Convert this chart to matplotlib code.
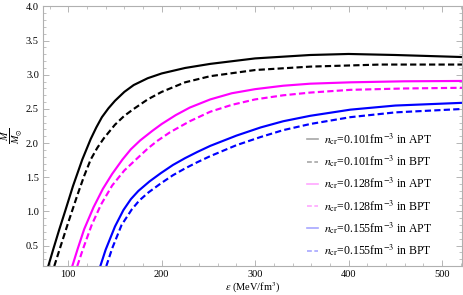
import numpy as np
import matplotlib
matplotlib.use("Agg")
import matplotlib.pyplot as plt
from matplotlib.ticker import MultipleLocator

plt.rcParams['font.family'] = ['Liberation Serif', 'DejaVu Serif']
plt.rcParams['mathtext.fontset'] = 'stix'

# curves (energy density in MeV/fm^3, mass in solar masses)
eps_black_apt = [78.6, 84, 90, 97, 105, 115, 124, 130, 136, 143, 150, 160, 170, 185, 200, 225, 252, 300, 359, 400, 450, 522]
m_black_apt = [0.2, 0.45, 0.72, 1.02, 1.37, 1.76, 2.06, 2.23, 2.38, 2.51, 2.62, 2.75, 2.85, 2.95, 3.02, 3.1, 3.16, 3.24, 3.29, 3.305, 3.29, 3.26]

eps_black_bpt = [85, 92, 100, 110, 117, 124, 131, 138, 150, 160, 170, 185, 200, 225, 252, 300, 359, 434, 522]
m_black_bpt = [0.2, 0.5, 0.84, 1.25, 1.52, 1.76, 1.93, 2.07, 2.27, 2.4, 2.5, 2.64, 2.75, 2.89, 2.98, 3.07, 3.12, 3.15, 3.15]

eps_mag_apt = [104.3, 110, 117, 127, 137, 147, 158, 167, 177, 190, 200, 215, 230, 252, 275, 300, 330, 359, 402, 460, 522]
m_mag_apt = [0.2, 0.45, 0.74, 1.06, 1.33, 1.55, 1.76, 1.91, 2.04, 2.18, 2.28, 2.41, 2.52, 2.64, 2.73, 2.79, 2.84, 2.87, 2.89, 2.905, 2.91]

eps_mag_bpt = [109.6, 116, 125, 135, 147, 160, 174, 185, 195, 209, 230, 252, 275, 300, 330, 359, 402, 460, 522]
m_mag_bpt = [0.2, 0.46, 0.8, 1.1, 1.38, 1.6, 1.78, 1.92, 2.03, 2.16, 2.32, 2.46, 2.56, 2.64, 2.7, 2.74, 2.78, 2.8, 2.81]

eps_blue_apt = [134.3, 140, 150, 159, 167, 175, 187, 199, 212, 225, 238, 252, 280, 306, 330, 359, 402, 450, 522]
m_blue_apt = [0.2, 0.44, 0.78, 1.02, 1.18, 1.3, 1.44, 1.56, 1.68, 1.78, 1.87, 1.96, 2.11, 2.23, 2.32, 2.4, 2.49, 2.55, 2.59]

eps_blue_bpt = [140.7, 147, 157, 168, 176, 186, 199, 212, 225, 238, 252, 280, 306, 330, 359, 402, 450, 522]
m_blue_bpt = [0.2, 0.46, 0.8, 1.03, 1.16, 1.28, 1.41, 1.53, 1.63, 1.72, 1.81, 1.97, 2.09, 2.19, 2.28, 2.38, 2.45, 2.5]

labels = [r'$n_{\rm cr}$=0.101fm$^{-3}$ in APT', r'$n_{\rm cr}$=0.101fm$^{-3}$ in BPT',
          r'$n_{\rm cr}$=0.128fm$^{-3}$ in APT', r'$n_{\rm cr}$=0.128fm$^{-3}$ in BPT',
          r'$n_{\rm cr}$=0.155fm$^{-3}$ in APT', r'$n_{\rm cr}$=0.155fm$^{-3}$ in BPT']

fig = plt.figure(figsize=(4.63, 2.95), dpi=100)
ax = fig.add_axes([0.093, 0.098, 0.905, 0.88])

curves = [(eps_black_apt, m_black_apt, 'black', '-'), (eps_black_bpt, m_black_bpt, 'black', '--'),
          (eps_mag_apt, m_mag_apt, 'magenta', '-'), (eps_mag_bpt, m_mag_bpt, 'magenta', '--'),
          (eps_blue_apt, m_blue_apt, 'blue', '-'), (eps_blue_bpt, m_blue_bpt, 'blue', '--')]
for (x, y, c, ls), lab in zip(curves, labels):
    ax.plot(x, y, color=c, ls=ls, lw=1.55, dashes=(2.9, 1.5) if ls == '--' else (None, None),
            label=lab, solid_joinstyle='round')

ax.set_xlim(73, 521.5)
ax.set_ylim(0.2, 4.0)
ax.xaxis.set_major_locator(MultipleLocator(100))
ax.xaxis.set_minor_locator(MultipleLocator(20))
ax.yaxis.set_major_locator(MultipleLocator(0.5))
ax.yaxis.set_minor_locator(MultipleLocator(0.1))
ax.tick_params(which='both', direction='in', top=True, right=True, color='#aaaaaa', labelsize=7.5, pad=3)
ax.tick_params(which='major', length=4, width=0.6)
ax.tick_params(which='minor', length=2, width=0.5)
for s in ax.spines.values():
    s.set_color('#b0b0b0')
    s.set_linewidth(0.8)

ax.set_xlabel(r'$\epsilon$ (MeV/fm$^3$)', fontsize=7.5, labelpad=1)
fig.text(0.026, 0.54, r'$\frac{M}{M_{\odot}}$', rotation=90, fontsize=10.5, ha='center', va='center')

leg = ax.legend(loc='lower right', bbox_to_anchor=(0.955, -0.011), frameon=False, fontsize=8.5,
                handlelength=1.0, handletextpad=0.5, labelspacing=0.55)
for h in leg.get_lines():
    h.set_alpha(0.35)
    h.set_linewidth(1.2)

fig.savefig('out.png', dpi=100)
